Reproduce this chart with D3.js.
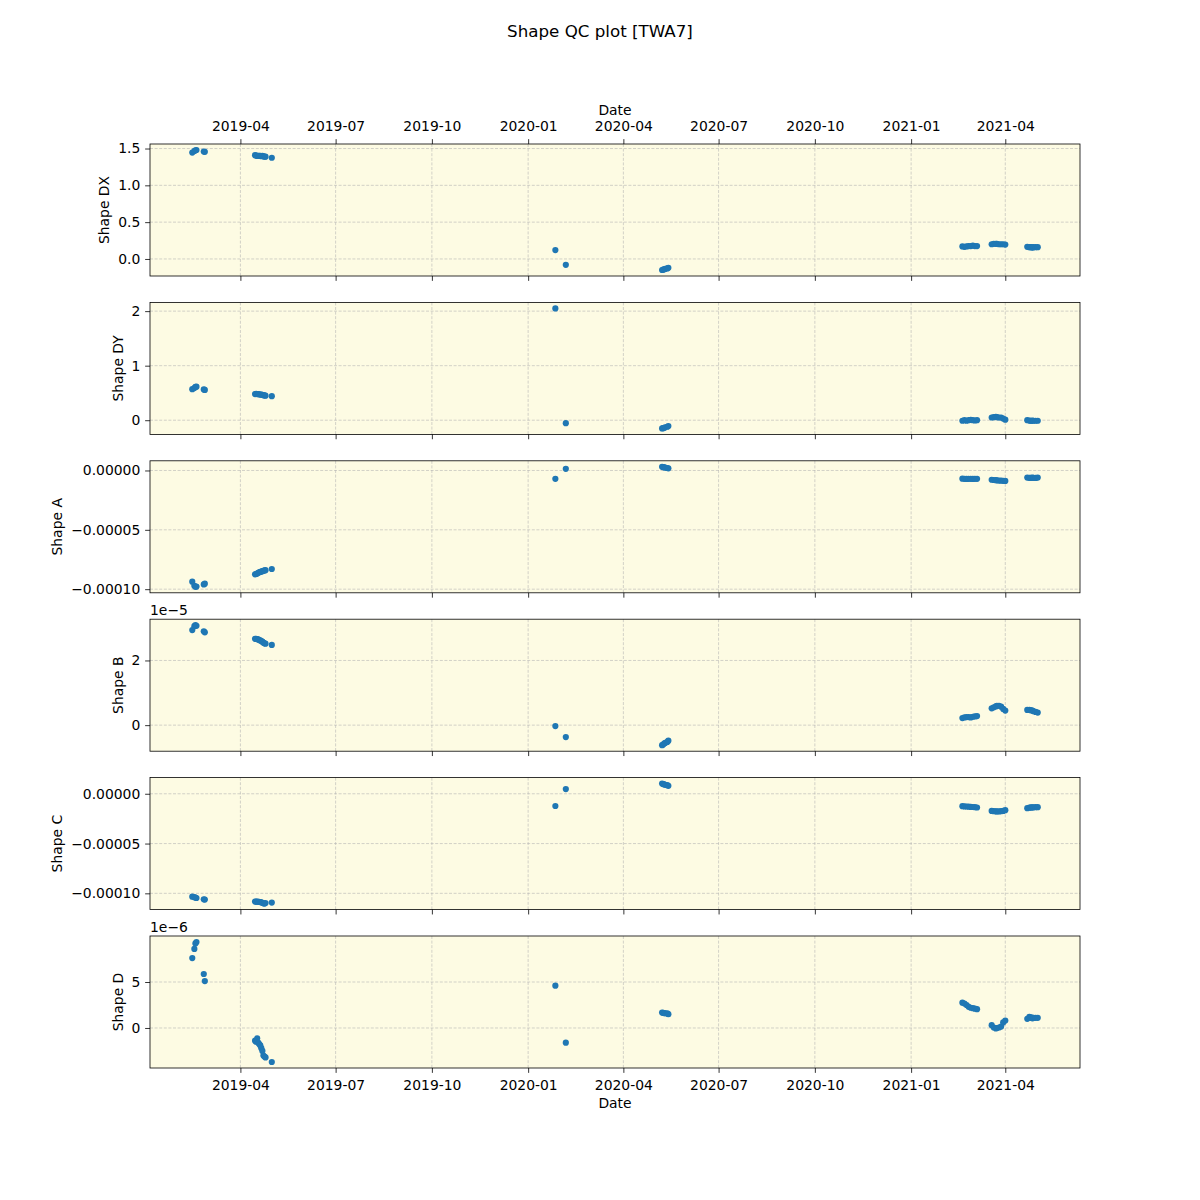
<!DOCTYPE html>
<html>
<head>
<meta charset="utf-8">
<script src="https://cdn.jsdelivr.net/npm/d3@7"></script>
<style>
  body { margin: 0; background: #ffffff; }
  text { font-family: "DejaVu Sans", sans-serif; fill: #000000; }
</style>
</head>
<body>
<div id="chart"></div>
<script>
// Data
var dates = [
  "2019-02-14", "2019-02-16", "2019-02-17", "2019-02-18", "2019-02-25", "2019-02-26",
  "2019-04-15", "2019-04-16", "2019-04-17", "2019-04-18", "2019-04-19", "2019-04-20",
  "2019-04-21", "2019-04-22", "2019-04-23", "2019-04-24", "2019-04-25", "2019-05-01",
  "2020-01-27", "2020-02-06",
  "2020-05-08", "2020-05-09", "2020-05-10", "2020-05-11", "2020-05-13", "2020-05-14",
  "2021-02-19", "2021-02-21", "2021-02-23", "2021-02-25", "2021-02-27", "2021-03-01", "2021-03-03", "2021-03-05",
  "2021-03-19", "2021-03-21", "2021-03-23", "2021-03-24", "2021-03-26", "2021-03-28", "2021-03-30", "2021-04-01",
  "2021-04-22", "2021-04-24", "2021-04-25", "2021-04-26", "2021-04-27", "2021-04-28", "2021-04-30", "2021-05-02"
];

var shapeDX = [
  1.445, 1.465, 1.475, 1.48, 1.458, 1.455,
  1.41, 1.405, 1.40, 1.40, 1.40, 1.40, 1.395, 1.40, 1.395, 1.39, 1.39, 1.375,
  0.12, -0.08,
  -0.15, -0.145, -0.14, -0.135, -0.128, -0.12,
  0.17, 0.165, 0.17, 0.175, 0.175, 0.18, 0.175, 0.175,
  0.20, 0.205, 0.205, 0.205, 0.20, 0.20, 0.20, 0.195,
  0.165, 0.16, 0.16, 0.16, 0.155, 0.16, 0.16, 0.16
];

var shapeDY = [
  0.57, 0.59, 0.61, 0.615, 0.565, 0.555,
  0.48, 0.485, 0.48, 0.48, 0.475, 0.47, 0.47, 0.465, 0.46, 0.455, 0.45, 0.44,
  2.05, -0.055,
  -0.15, -0.145, -0.138, -0.13, -0.12, -0.108,
  -0.01, 0.0, -0.01, 0.0, 0.005, 0.0, -0.005, 0.0,
  0.05, 0.055, 0.06, 0.055, 0.05, 0.05, 0.03, 0.01,
  0.0, -0.005, -0.01, -0.01, -0.005, -0.01, -0.01, -0.01
];

var shapeA = [
  -9.37e-5, -9.72e-5, -9.8e-5, -9.78e-5, -9.6e-5, -9.54e-5,
  -8.75e-5, -8.72e-5, -8.68e-5, -8.62e-5, -8.58e-5, -8.55e-5, -8.52e-5, -8.48e-5, -8.45e-5, -8.42e-5, -8.40e-5, -8.30e-5,
  -0.70e-5, 0.14e-5,
  0.31e-5, 0.29e-5, 0.27e-5, 0.24e-5, 0.21e-5, 0.18e-5,
  -0.69e-5, -0.70e-5, -0.71e-5, -0.70e-5, -0.70e-5, -0.71e-5, -0.70e-5, -0.70e-5,
  -0.78e-5, -0.80e-5, -0.82e-5, -0.83e-5, -0.85e-5, -0.86e-5, -0.87e-5, -0.88e-5,
  -0.60e-5, -0.62e-5, -0.63e-5, -0.62e-5, -0.60e-5, -0.62e-5, -0.63e-5, -0.60e-5
];

var shapeB = [
  2.94e-5, 3.06e-5, 3.09e-5, 3.07e-5, 2.90e-5, 2.87e-5,
  2.67e-5, 2.67e-5, 2.66e-5, 2.65e-5, 2.63e-5, 2.62e-5, 2.60e-5, 2.58e-5, 2.55e-5, 2.53e-5, 2.52e-5, 2.48e-5,
  -0.03e-5, -0.37e-5,
  -0.62e-5, -0.60e-5, -0.57e-5, -0.55e-5, -0.52e-5, -0.48e-5,
  0.22e-5, 0.24e-5, 0.25e-5, 0.25e-5, 0.24e-5, 0.26e-5, 0.27e-5, 0.28e-5,
  0.52e-5, 0.55e-5, 0.58e-5, 0.60e-5, 0.60e-5, 0.57e-5, 0.50e-5, 0.45e-5,
  0.47e-5, 0.47e-5, 0.46e-5, 0.46e-5, 0.45e-5, 0.43e-5, 0.41e-5, 0.39e-5
];

var shapeC = [
  -10.33e-5, -10.38e-5, -10.42e-5, -10.47e-5, -10.60e-5, -10.63e-5,
  -10.83e-5, -10.83e-5, -10.84e-5, -10.85e-5, -10.86e-5, -10.88e-5, -10.90e-5, -10.95e-5, -11.0e-5, -11.03e-5, -10.98e-5, -10.93e-5,
  -1.23e-5, 0.47e-5,
  1.02e-5, 0.98e-5, 0.94e-5, 0.90e-5, 0.86e-5, 0.80e-5,
  -1.25e-5, -1.27e-5, -1.28e-5, -1.30e-5, -1.32e-5, -1.33e-5, -1.35e-5, -1.38e-5,
  -1.72e-5, -1.75e-5, -1.76e-5, -1.77e-5, -1.77e-5, -1.75e-5, -1.72e-5, -1.65e-5,
  -1.45e-5, -1.40e-5, -1.38e-5, -1.37e-5, -1.36e-5, -1.36e-5, -1.35e-5, -1.35e-5
];

var shapeD = [
  7.6e-6, 8.6e-6, 9.2e-6, 9.35e-6, 5.87e-6, 5.1e-6,
  -1.38e-6, -1.5e-6, -1.13e-6, -1.6e-6, -1.75e-6, -1.9e-6, -2.2e-6, -2.5e-6, -3.0e-6, -3.1e-6, -3.2e-6, -3.7e-6,
  4.6e-6, -1.6e-6,
  1.68e-6, 1.65e-6, 1.62e-6, 1.60e-6, 1.58e-6, 1.50e-6,
  2.75e-6, 2.65e-6, 2.5e-6, 2.3e-6, 2.2e-6, 2.15e-6, 2.1e-6, 2.05e-6,
  0.3e-6, 0.05e-6, -0.05e-6, 0.0, 0.05e-6, 0.15e-6, 0.6e-6, 0.8e-6,
  1.0e-6, 1.2e-6, 1.1e-6, 1.15e-6, 1.05e-6, 1.1e-6, 1.1e-6, 1.1e-6
];

// Tick labels
var xTickDates = ["2019-04-01", "2019-07-01", "2019-10-01", "2020-01-01", "2020-04-01",
  "2020-07-01", "2020-10-01", "2021-01-01", "2021-04-01"];
var dxTicks = [0, 0.5, 1.0, 1.5];
var dyTicks = [0, 1, 2];
var aTicks = [-0.0001, -0.00005, 0];
var bTicks = [0, 2e-5];
var cTicks = [-0.0001, -0.00005, 0];
var dTicks = [0, 5e-6];

var panelLabels = ["Shape DX", "Shape DY", "Shape A", "Shape B", "Shape C", "Shape D"];

// Chart Parameters
var svgWidth = 1200;
var svgHeight = 1200;
var left = 150;
var right = 1080;
var top0 = 144;
var panelH = 132;
var panelGap = 26.4;
var fontSize = 13.9;
var tickLen = 4.86;
var tickPad = 4.86;
var bgColor = "#fdfbe3";
var dotColor = "#1f77b4";

var parseDate = d3.utcParse("%Y-%m-%d");
var points = dates.map(parseDate);
var xTicks = xTickDates.map(parseDate);

var svg = d3.select("#chart")
  .append("svg")
  .attr("width", svgWidth)
  .attr("height", svgHeight);

// Title
svg.append("text")
  .attr("x", 600)
  .attr("y", 37)
  .attr("text-anchor", "middle")
  .attr("font-size", "16.7px")
  .text("Shape QC plot [TWA7]");

// x scale with matplotlib-like 5% margins
var xExt = d3.extent(points);
var xPad = (xExt[1] - xExt[0]) * 0.05;
var xScale = d3.scaleUtc()
  .domain([new Date(+xExt[0] - xPad), new Date(+xExt[1] + xPad)])
  .range([left, right]);

var series = [
  { values: shapeDX, ticks: dxTicks, fmt: d3.format(".1f"), offset: null },
  { values: shapeDY, ticks: dyTicks, fmt: d3.format("d"), offset: null },
  { values: shapeA, ticks: aTicks, fmt: d3.format(".5f"), offset: null },
  { values: shapeB, ticks: bTicks, fmt: function(v) { return d3.format("d")(Math.round(v / 1e-5)); }, offset: "1e\u22125" },
  { values: shapeC, ticks: cTicks, fmt: d3.format(".5f"), offset: null },
  { values: shapeD, ticks: dTicks, fmt: function(v) { return d3.format("d")(Math.round(v / 1e-6)); }, offset: "1e\u22126" }
];

function styleAxis(g) {
  g.select(".domain").remove();
  g.selectAll(".tick line").attr("stroke", "#000").attr("stroke-width", 0.8);
  g.selectAll(".tick text")
    .attr("font-size", fontSize + "px")
    .attr("font-family", "DejaVu Sans")
    .attr("fill", "#000");
  g.attr("font-family", null).attr("font-size", null);
}

series.forEach(function(s, i) {
  var y0 = top0 + i * (panelH + panelGap);
  var y1 = y0 + panelH;

  var yExt = d3.extent(s.values);
  var yPad = (yExt[1] - yExt[0]) * 0.05;
  var yScale = d3.scaleLinear()
    .domain([yExt[0] - yPad, yExt[1] + yPad])
    .range([y1, y0]);

  var panel = svg.append("g");

  // background
  panel.append("rect")
    .attr("x", left)
    .attr("y", y0)
    .attr("width", right - left)
    .attr("height", panelH)
    .attr("fill", bgColor);

  // grid
  panel.selectAll(".vgrid")
    .data(xTicks)
    .enter()
    .append("line")
    .attr("x1", d => xScale(d))
    .attr("x2", d => xScale(d))
    .attr("y1", y0)
    .attr("y2", y1)
    .attr("stroke", "#b0b0b0")
    .attr("stroke-opacity", 0.7)
    .attr("stroke-width", 0.8)
    .attr("stroke-dasharray", "3,1.6");

  panel.selectAll(".hgrid")
    .data(s.ticks)
    .enter()
    .append("line")
    .attr("x1", left)
    .attr("x2", right)
    .attr("y1", d => yScale(d))
    .attr("y2", d => yScale(d))
    .attr("stroke", "#b0b0b0")
    .attr("stroke-opacity", 0.7)
    .attr("stroke-width", 0.8)
    .attr("stroke-dasharray", "3,1.6");

  // dots
  var clipId = "clip" + i;
  panel.append("clipPath")
    .attr("id", clipId)
    .append("rect")
    .attr("x", left)
    .attr("y", y0)
    .attr("width", right - left)
    .attr("height", panelH);

  panel.append("g")
    .attr("clip-path", "url(#" + clipId + ")")
    .selectAll("circle")
    .data(s.values)
    .enter()
    .append("circle")
    .attr("cx", (d, j) => xScale(points[j]))
    .attr("cy", d => yScale(d))
    .attr("r", 3.1)
    .attr("fill", dotColor);

  // y axis
  var yAxis = panel.append("g")
    .attr("transform", `translate(${left}, 0)`)
    .call(d3.axisLeft(yScale)
      .tickValues(s.ticks)
      .tickFormat(s.fmt)
      .tickSize(tickLen)
      .tickPadding(tickPad));
  styleAxis(yAxis);

  // bottom x axis (labels only on the last panel)
  var xAxis = panel.append("g")
    .attr("transform", `translate(0, ${y1})`)
    .call(d3.axisBottom(xScale)
      .tickValues(xTicks)
      .tickFormat(i === series.length - 1 ? d3.utcFormat("%Y-%m") : "")
      .tickSize(tickLen)
      .tickPadding(tickPad));
  styleAxis(xAxis);
  xAxis.selectAll(".tick text").attr("dy", "0.9em");

  // top axis on the first panel
  if (i === 0) {
    var topAxis = panel.append("g")
      .attr("transform", `translate(0, ${y0})`)
      .call(d3.axisTop(xScale)
        .tickValues(xTicks)
        .tickFormat(d3.utcFormat("%Y-%m"))
        .tickSize(tickLen)
        .tickPadding(tickPad));
    styleAxis(topAxis);
    topAxis.selectAll(".tick text").attr("dy", "-0.24em");

    panel.append("text")
      .attr("x", (left + right) / 2)
      .attr("y", y0 - 29)
      .attr("text-anchor", "middle")
      .attr("font-size", fontSize + "px")
      .text("Date");
  }

  if (i === series.length - 1) {
    panel.append("text")
      .attr("x", (left + right) / 2)
      .attr("y", y1 + 40)
      .attr("text-anchor", "middle")
      .attr("font-size", fontSize + "px")
      .text("Date");
  }

  // frame
  panel.append("rect")
    .attr("x", left)
    .attr("y", y0)
    .attr("width", right - left)
    .attr("height", panelH)
    .attr("fill", "none")
    .attr("stroke", "#000")
    .attr("stroke-width", 0.8);

  // offset text like "1e-5"
  if (s.offset) {
    panel.append("text")
      .attr("x", left)
      .attr("y", y0 - 4)
      .attr("font-size", fontSize + "px")
      .text(s.offset);
  }

  // y label placed left of the widest tick label
  var maxW = 0;
  yAxis.selectAll(".tick text").each(function() {
    maxW = Math.max(maxW, this.getComputedTextLength());
  });
  var labelX = left - tickLen - tickPad - maxW - 5.56 - 3.3;
  var yMid = (y0 + y1) / 2;
  panel.append("text")
    .attr("transform", `translate(${labelX}, ${yMid}) rotate(-90)`)
    .attr("text-anchor", "middle")
    .attr("font-size", fontSize + "px")
    .text(panelLabels[i]);
});
</script>
</body>
</html>
